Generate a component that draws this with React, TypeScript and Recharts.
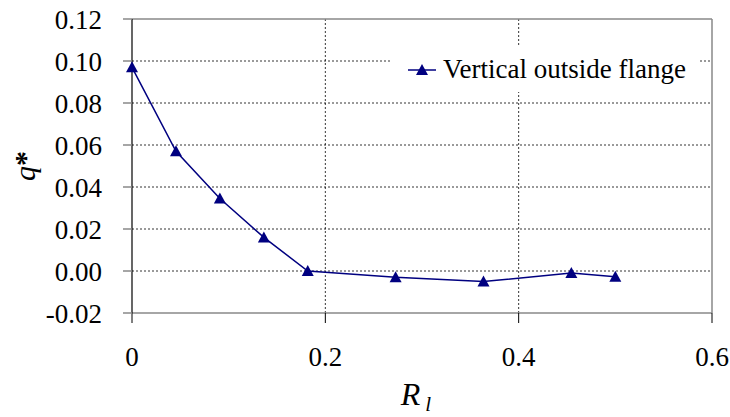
import {
  LineChart,
  Line,
  XAxis,
  YAxis,
  CartesianGrid,
  ReferenceLine,
} from "recharts";

const rValues = [0, 0.0455, 0.0909, 0.1364, 0.1818, 0.2727, 0.3636, 0.4545, 0.5];
const qValues = [0.097, 0.057, 0.0345, 0.016, 0.0, -0.003, -0.005, -0.001, -0.0027];
const xTicks = [0, 0.2, 0.4, 0.6];
const yTicks = [-0.02, 0, 0.02, 0.04, 0.06, 0.08, 0.1, 0.12];
const seriesName = "Vertical outside flange";

const data = rValues.map((r, i) => ({ r, q: qValues[i] }));

const FONT = "Liberation Serif, Tinos, Times New Roman, Times, DejaVu Serif, serif";
const NAVY = "#000080";

const Triangle = (props: any) => {
  const { cx, cy } = props;
  if (cx == null || cy == null) return null;
  return (
    <polygon
      points={`${cx - 6},${cy + 5} ${cx + 6},${cy + 5} ${cx},${cy - 6}`}
      fill={NAVY}
    />
  );
};

// legend sits over the grid with a white box, like the original
const LegendBox = () => (
  <div
    style={{
      position: "absolute",
      left: 392,
      top: 47,
      width: 306,
      height: 45,
      background: "#fff",
      display: "flex",
      alignItems: "center",
      fontFamily: FONT,
      fontSize: 27,
      color: "#000",
      whiteSpace: "nowrap",
    }}
  >
    <svg width={37} height={20} style={{ marginLeft: 14, flexShrink: 0 }}>
      <line x1={2} y1={10} x2={30} y2={10} stroke={NAVY} strokeWidth={1.5} />
      <polygon points="10,15 22,15 16,4" fill={NAVY} />
    </svg>
    <span>{seriesName}</span>
  </div>
);

const XTitle = (props: any) => {
  const { x, width } = props.viewBox;
  return (
    <text
      x={x + width / 2 - 6}
      y={405}
      textAnchor="middle"
      fontFamily={FONT}
      fontSize={32}
      fontStyle="italic"
      fill="#000"
    >
      R
      <tspan fontSize={21} dy={6} dx={5}>
        l
      </tspan>
    </text>
  );
};

const YTitle = (props: any) => {
  const { y, height } = props.viewBox;
  const cy = y + height / 2;
  return (
    <text
      x={0}
      y={0}
      transform={`translate(35, ${cy}) rotate(-90)`}
      textAnchor="middle"
      fontFamily={FONT}
      fontSize={30}
      fill="#000"
    >
      <tspan fontStyle="italic">q</tspan>
      <tspan fontWeight="bold">*</tspan>
    </text>
  );
};

export default function App() {
  return (
    <div style={{ position: "absolute", left: 0, top: 0, width: 730, height: 417, background: "#fff" }}>
      <LineChart
        width={730}
        height={417}
        data={data}
        margin={{ top: 19, right: 18, left: 0, bottom: 0 }}
      >
        <CartesianGrid
          stroke="#000"
          strokeDasharray="2 2"
          strokeWidth={0.8}
          horizontalValues={[0, 0.02, 0.04, 0.06, 0.08, 0.1]}
          verticalValues={[0.2, 0.4]}
        />
        <ReferenceLine y={0.12} stroke="#888" strokeWidth={1.5} />
        <ReferenceLine x={0.6} stroke="#888" strokeWidth={1.5} />
        <XAxis
          dataKey="r"
          type="number"
          domain={[0, 0.6]}
          ticks={xTicks}
          tickFormatter={(v: number) => (v === 0 ? "0" : String(v))}
          height={104}
          stroke="#888"
          strokeWidth={1.5}
          tickSize={10}
          tickMargin={24}
          tick={{ fill: "#000", fontFamily: FONT, fontSize: 27 }}
          tickLine={{ stroke: "#000", strokeWidth: 1 }}
          label={<XTitle />}
        />
        <YAxis
          type="number"
          domain={[-0.02, 0.12]}
          ticks={yTicks}
          tickFormatter={(v: number) => v.toFixed(2)}
          width={132}
          stroke="#000"
          strokeWidth={1.2}
          tickSize={9}
          tickMargin={21}
          tick={{ fill: "#000", fontFamily: FONT, fontSize: 27 }}
          tickLine={{ stroke: "#888", strokeWidth: 1.5 }}
          label={<YTitle />}
        />
        <Line
          type="linear"
          dataKey="q"
          name={seriesName}
          stroke={NAVY}
          strokeWidth={1.5}
          dot={<Triangle />}
          activeDot={false}
          isAnimationActive={false}
        />
      </LineChart>
      <LegendBox />
    </div>
  );
}
